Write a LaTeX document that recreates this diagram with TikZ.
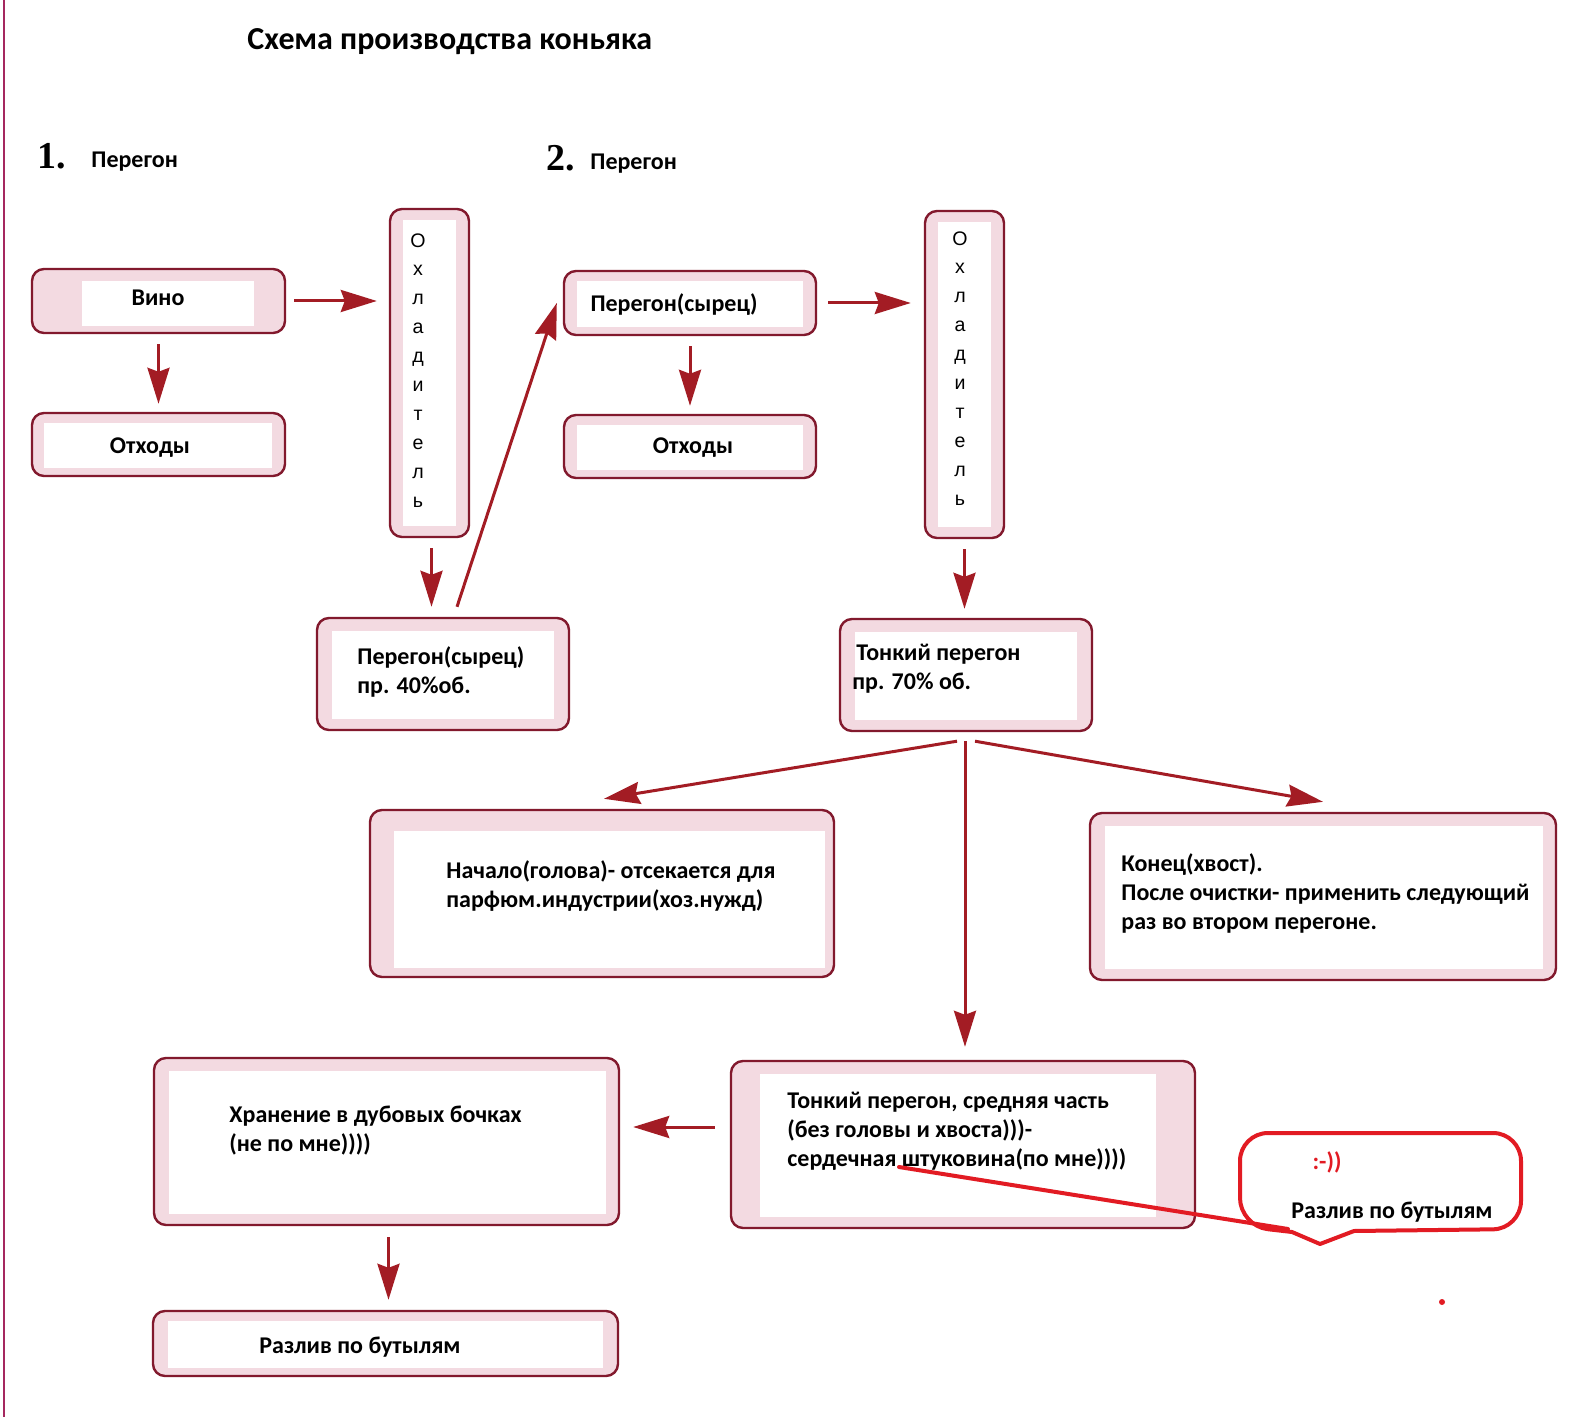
\documentclass[tikz,border=0pt]{standalone}
\usepackage{fontspec}
\newfontfamily\calf{Carlito}
\newfontfamily\arialf{Liberation Sans}
\newfontfamily\timesf{Liberation Serif}
\usetikzlibrary{arrows.meta,fit,calc}
\definecolor{arrred}{RGB}{163,28,36}
\definecolor{boxline}{RGB}{130,25,45}
\definecolor{boxpink}{RGB}{243,218,225}
\definecolor{leftline}{RGB}{165,40,95}
\definecolor{callred}{RGB}{226,27,35}
\tikzset{
  obox/.style={draw=boxline, line width=1.2pt, fill=boxpink, rounded corners=6pt, inner sep=0pt},
  txt/.style={font={\calf\bfseries\fontsize{12pt}{14.5pt}\selectfont}, inner sep=0pt, text=black},
  mtxt/.style={txt, align=left, anchor=north west},
  ctxt/.style={txt, anchor=base},
  lettxt/.style={font={\arialf\fontsize{9.8pt}{14.45pt}\selectfont}, inner sep=0pt, align=center, anchor=north},
  arr/.style={draw=arrred, line width=1.5pt, -{Stealth[length=18pt,width=11pt,inset=2pt]}},
}
\newcommand\pbox[9]{%
  \node[obox, fit={(#2,#3) (#4,#5)}] (#1) {};
  \fill[white] ([shift={(#6,#7)}]#1.north west) rectangle ([shift={(-#8,-#9)}]#1.south east);
}
\begin{document}
\begin{tikzpicture}[x=0.5pt,y=-0.5pt]
\useasboundingbox (0,0) rectangle (1580,1417);
\fill[white] (0,0) rectangle (1580,1417);
\draw[leftline, line width=1pt] (4,0) -- (4,1417);

% title and headings
\node[txt, font={\calf\bfseries\fontsize{16pt}{19pt}\selectfont}, anchor=base west] (title) at (247,50) {Схема производства коньяка};
\node[inner sep=0pt, font={\timesf\bfseries\fontsize{19pt}{22pt}\selectfont}, anchor=base west] (n1) at (37,169) {1.};
\node[txt, font={\calf\bfseries\fontsize{12pt}{14pt}\selectfont}, anchor=base west] (h1) at (91,167.7) {Перегон};
\node[inner sep=0pt, font={\timesf\bfseries\fontsize{19pt}{22pt}\selectfont}, anchor=base west] (n2) at (546,171) {2.};
\node[txt, font={\calf\bfseries\fontsize{12pt}{14pt}\selectfont}, anchor=base west] (h2) at (590,169.7) {Перегон};

% boxes
\pbox{vino}{32}{269}{285}{333}{51}{13}{32}{8}
\pbox{otx1}{32}{413}{285}{476}{13}{11}{14}{9}
\pbox{ohl1}{390}{209}{469}{537}{14}{12}{14}{12}
\pbox{per2}{564}{271}{816}{335}{14}{11}{14}{9}
\pbox{otx2}{564}{415}{816}{478}{14}{11}{14}{9}
\pbox{ohl2}{925}{211}{1004}{538}{14}{12}{14}{12}
\pbox{p40}{317}{618}{569}{730}{16}{14}{16}{12}
\pbox{tonk}{840}{619}{1092}{731}{16}{14}{16}{12}
\pbox{nach}{370}{810}{834}{977}{25}{22}{10}{10}
\pbox{kon}{1090}{813}{1556}{980}{16}{14}{14}{12}
\pbox{hran}{154}{1058}{619}{1225}{16}{14}{14}{12}
\pbox{mid}{731}{1061}{1195}{1228}{30}{14}{40}{12}
\pbox{raz}{153}{1311}{618}{1376}{16}{11}{16}{9}

% texts
\node[ctxt] (vino-t) at (158,305.7) {Вино};
\node[ctxt] (otx1-t) at (150,453.7) {Отходы};
\node[ctxt] (per2-t) at (674,311.7) {Перегон(сырец)};
\node[ctxt] (otx2-t) at (693,453.7) {Отходы};
\node[ctxt] (raz-t) at (360,1353.7) {Разлив по бутылям};
\node[lettxt] (ohl1-t) at (418,233) {О\\х\\л\\а\\д\\и\\т\\е\\л\\ь};
\node[lettxt] (ohl2-t) at (960,231) {О\\х\\л\\а\\д\\и\\т\\е\\л\\ь};
\node[mtxt] (p40-t) at (357,643.4) {\strut Перегон(сырец)\\пр. 40\%об.};
\node[mtxt] (tonk-t) at (852,639.4) {\strut\hspace*{2pt}Тонкий перегон\\пр. 70\% об.};
\node[mtxt] (nach-t) at (446,857.4) {\strut Начало(голова)- отсекается для\\парфюм.индустрии(хоз.нужд)};
\node[mtxt] (kon-t) at (1121,850.4) {\strut Конец(хвост).\\После очистки- применить следующий\\раз во втором перегоне.};
\node[mtxt] (hran-t) at (229,1101.4) {\strut Хранение в дубовых бочках\\(не по мне))))};
\node[mtxt] (mid-t) at (787,1087.4) {\strut Тонкий перегон, средняя часть\\(без головы и хвоста)))-\\сердечная штуковина(по мне))))};

% arrows
\draw[arr, shorten <=4pt, shorten >=6pt] (vino.east) -- (vino.east -| ohl1.west);
\draw[arr, shorten <=5pt, shorten >=4pt] (vino.south) -- (otx1.north);
\draw[arr, shorten <=5pt, shorten >=5pt] ([xshift=1pt]ohl1.south) -- ([xshift=1pt]ohl1.south |- p40.north);
\draw[arr] ([shift={(14,-10)}]p40.north) -- ([shift={(-6,0)}]per2.west);
\draw[arr, shorten <=5.5pt, shorten >=6.5pt] (per2.east) -- (per2.east -| ohl2.west);
\draw[arr, shorten <=5pt, shorten >=4pt] (per2.south) -- (per2.south |- otx2.north);
\draw[arr, shorten <=5pt, shorten >=4.5pt] (ohl2.south) -- (ohl2.south |- tonk.north);
\draw[arr] ([shift={(-9,9)}]tonk.south) -- ([shift={(2,-10)}]nach.north);
\draw[arr] ([shift={(9,9)}]tonk.south) -- ([shift={(0,-10)}]kon.north);
\draw[arr, shorten <=4.5pt, shorten >=6.5pt] ([xshift=-0.5pt]tonk.south) -- ([xshift=-0.5pt]tonk.south |- mid.north);
\coordinate (m1) at ([yshift=8.75pt]mid.west);
\draw[arr, shorten <=7.5pt, shorten >=6.5pt] (m1) -- (m1 -| hran.east);
\draw[arr, shorten <=5.5pt, shorten >=5pt] ([xshift=1pt]hran.south) -- ([xshift=1pt]hran.south |- raz.north);

% callout
\draw[callred, line width=2pt, line join=round]
  (1320,1244) -- (1354,1231) [rounded corners=14pt] -- (1521,1229) -- (1521,1133) -- (1240,1133) -- (1240,1226) [sharp corners] -- (1292,1232) -- cycle;
\node[ctxt, text=callred] (smile) at (1327,1169) {:-))};
\node[ctxt] (call-t) at (1392,1218) {Разлив по бутылям};
\coordinate (uline) at (899,1167);
\coordinate (cpt) at (1288,1229);
\draw[callred, line width=2pt, line cap=round] (uline) -- (cpt);
\fill[callred] (1442,1302) circle (3);
\end{tikzpicture}
\end{document}
